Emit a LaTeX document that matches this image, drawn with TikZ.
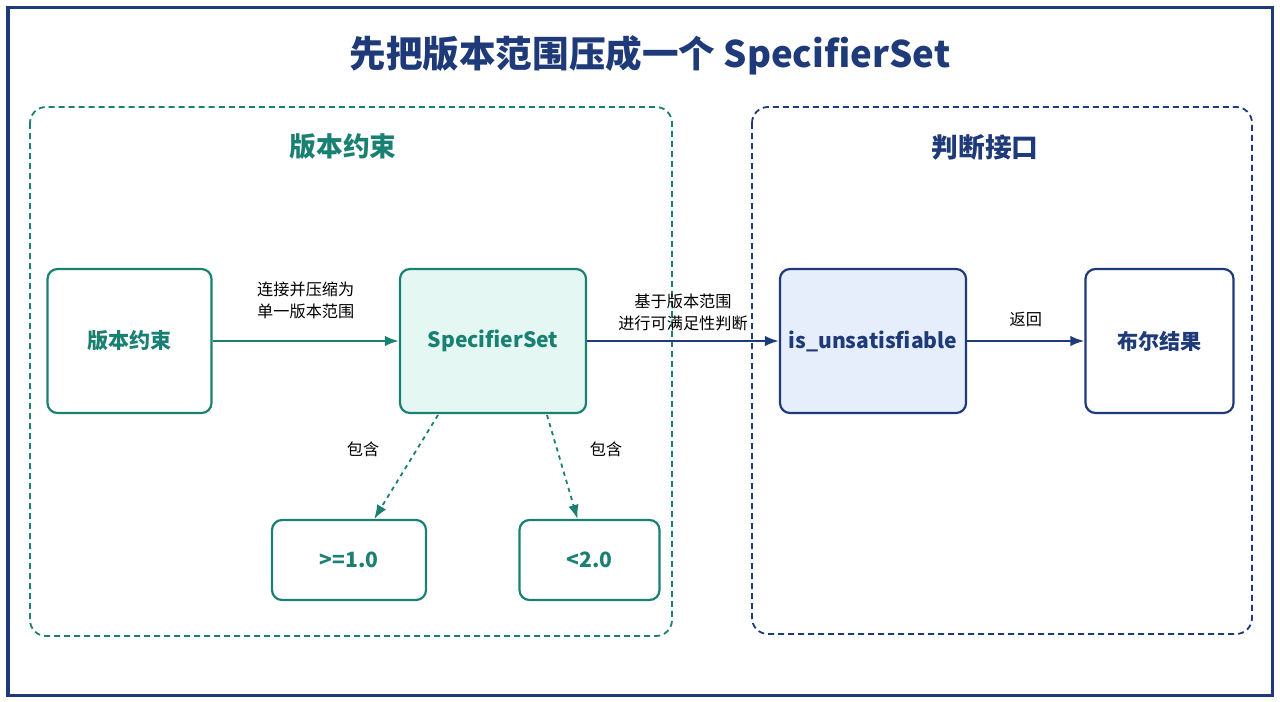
\documentclass[tikz,border=0pt]{standalone}
\usepackage{fontspec}
\setmainfont{Noto Sans CJK SC}
\usetikzlibrary{positioning, arrows.meta}
\definecolor{tealc}{HTML}{1A8072}
\definecolor{navyc}{HTML}{1E3A78}
\definecolor{tealfill}{HTML}{E4F7F3}
\definecolor{bluefill}{HTML}{E6EEFB}
\begin{document}
\begin{tikzpicture}
    [
        x=0.025cm, y=-0.025cm,
        teal_box/.style={rectangle, rounded corners=2.5mm, draw=tealc, fill=white, line width=0.55mm, text=tealc, font=\fontsize{15}{18}\selectfont\bfseries, minimum width=4.1cm, minimum height=3.6cm},
        navy_box/.style={teal_box, draw=navyc, text=navyc},
        small_box/.style={teal_box, minimum height=2.0cm, text=tealc},
        group/.style={draw, rounded corners=4mm, line width=0.45mm, dash pattern=on 1.5mm off 1mm},
        arrow_label/.style={font=\fontsize{11.5}{16}\selectfont, align=center, text=black},
    ]
        \useasboundingbox (0,0) rectangle (1280,702);
        \draw[navyc, line width=0.75mm] (8,8) rectangle (1272,695);
        \node[font=\fontsize{26}{30}\selectfont\bfseries, text=navyc] (title) at (650,55) {先把版本范围压成一个 SpecifierSet};
        % groups
        \draw[group, tealc] (30,107) rectangle (672,636);
        \draw[group, navyc] (752,107) rectangle (1252,634);
        \node[font=\fontsize{19}{22}\selectfont\bfseries, text=tealc] (g1) at (343,147) {版本约束};
        \node[font=\fontsize{19}{22}\selectfont\bfseries, text=navyc] (g2) at (985,147) {判断接口};
        % nodes
        \node[teal_box] (cons) at (129.5,341) {版本约束};
        \node[teal_box, fill=tealfill, minimum width=4.65cm] (spec) at (493,341) {SpecifierSet};
        \node[small_box, minimum width=3.85cm] (low) at (349,560) {>=1.0};
        \node[small_box, minimum width=3.5cm] (high) at (589.5,560) {<2.0};
        \node[navy_box, fill=bluefill, minimum width=4.65cm] (unsat) at (873,341) {is\_unsatisfiable};
        \node[navy_box, minimum width=3.7cm] (result) at (1159.5,341) {布尔结果};
        % connectors
        \draw[-{Latex[length=3.5mm]}, line width=0.55mm, tealc] (cons) -- node[arrow_label, above=4mm] {连接并压缩为\\单一版本范围} (spec);
        \draw[-{Latex[length=3.5mm]}, line width=0.55mm, navyc] (spec) -- node[arrow_label, above=1mm] {基于版本范围\\进行可满足性判断} (unsat);
        \draw[-{Latex[length=3.5mm]}, line width=0.55mm, navyc] (unsat) -- node[arrow_label, above=2mm] {返回} (result);
        \draw[-{Latex[length=3.5mm]}, line width=0.45mm, tealc, dashed] (438,415) -- (low);
        \draw[-{Latex[length=3.5mm]}, line width=0.45mm, tealc, dashed] (547,415) -- (high);
        \node[arrow_label] (inc1) at (363,449) {包含};
        \node[arrow_label] (inc2) at (606,449) {包含};
    \end{tikzpicture}
\end{document}
